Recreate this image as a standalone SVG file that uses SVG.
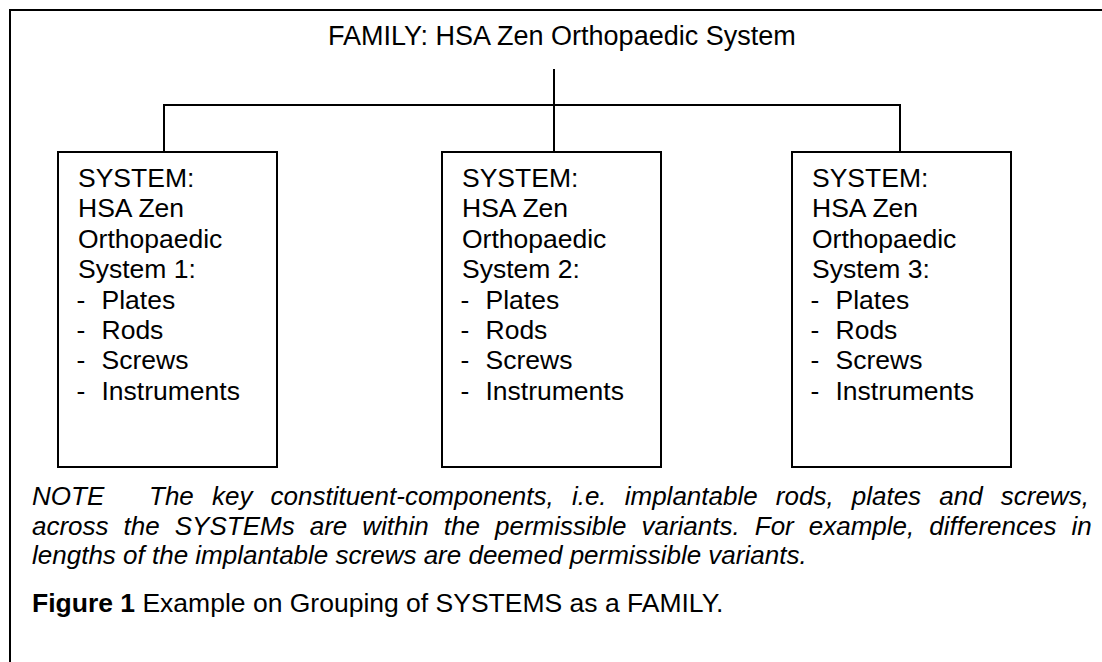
<svg xmlns="http://www.w3.org/2000/svg" width="1102" height="662" viewBox="0 0 1102 662">
<style>
text{font-family:"Liberation Sans",Arial,sans-serif;fill:#000}
.t{font-size:26.5px}
.h{font-size:27px}
.n{font-size:26px;font-style:italic}
.f{font-size:26.5px}
.box{fill:#fff;stroke:#000;stroke-width:2}
.ln{stroke:#000;stroke-width:2;fill:none}
</style>
<rect width="1102" height="662" fill="#fff"/>
<path class="ln" d="M10 662V10H1102"/>
<g id="connectors">
<path class="ln" d="M554 69V152"/>
<path class="ln" d="M164 152V105H900V152"/>
</g>
<g id="family">
<text class="h" x="328" y="45">FAMILY: HSA Zen Orthopaedic System</text>
</g>
<g id="system1">
<rect class="box" x="58" y="152" width="219" height="315"/>
<text class="t" x="78" y="187">SYSTEM:</text>
<text class="t" x="78" y="217.4">HSA Zen</text>
<text class="t" x="78" y="247.8">Orthopaedic</text>
<text class="t" x="78" y="278.2">System 1:</text>
<text class="t" x="76.5" y="308.6">-</text><text class="t" x="101.5" y="308.6">Plates</text>
<text class="t" x="76.5" y="339">-</text><text class="t" x="101.5" y="339">Rods</text>
<text class="t" x="76.5" y="369.4">-</text><text class="t" x="101.5" y="369.4">Screws</text>
<text class="t" x="76.5" y="399.8">-</text><text class="t" x="101.5" y="399.8">Instruments</text>
</g>
<g id="system2">
<rect class="box" x="442" y="152" width="219" height="315"/>
<text class="t" x="462" y="187">SYSTEM:</text>
<text class="t" x="462" y="217.4">HSA Zen</text>
<text class="t" x="462" y="247.8">Orthopaedic</text>
<text class="t" x="462" y="278.2">System 2:</text>
<text class="t" x="460.5" y="308.6">-</text><text class="t" x="485.5" y="308.6">Plates</text>
<text class="t" x="460.5" y="339">-</text><text class="t" x="485.5" y="339">Rods</text>
<text class="t" x="460.5" y="369.4">-</text><text class="t" x="485.5" y="369.4">Screws</text>
<text class="t" x="460.5" y="399.8">-</text><text class="t" x="485.5" y="399.8">Instruments</text>
</g>
<g id="system3">
<rect class="box" x="792" y="152" width="219" height="315"/>
<text class="t" x="812" y="187">SYSTEM:</text>
<text class="t" x="812" y="217.4">HSA Zen</text>
<text class="t" x="812" y="247.8">Orthopaedic</text>
<text class="t" x="812" y="278.2">System 3:</text>
<text class="t" x="810.5" y="308.6">-</text><text class="t" x="835.5" y="308.6">Plates</text>
<text class="t" x="810.5" y="339">-</text><text class="t" x="835.5" y="339">Rods</text>
<text class="t" x="810.5" y="369.4">-</text><text class="t" x="835.5" y="369.4">Screws</text>
<text class="t" x="810.5" y="399.8">-</text><text class="t" x="835.5" y="399.8">Instruments</text>
</g>
<g id="note">
<text class="n" x="32" y="505">NOTE</text>
<text class="n" x="149" y="505" style="word-spacing:10.9px">The key constituent-components, i.e. implantable rods, plates and screws,</text>
<text class="n" x="32" y="534.5" style="word-spacing:7.8px">across the SYSTEMs are within the permissible variants. For example, differences in</text>
<text class="n" x="32" y="564">lengths of the implantable screws are deemed permissible variants.</text>
</g>
<g id="caption">
<text class="f" x="32" y="612"><tspan font-weight="bold">Figure 1</tspan> Example on Grouping of SYSTEMS as a FAMILY.</text>
</g>
</svg>
